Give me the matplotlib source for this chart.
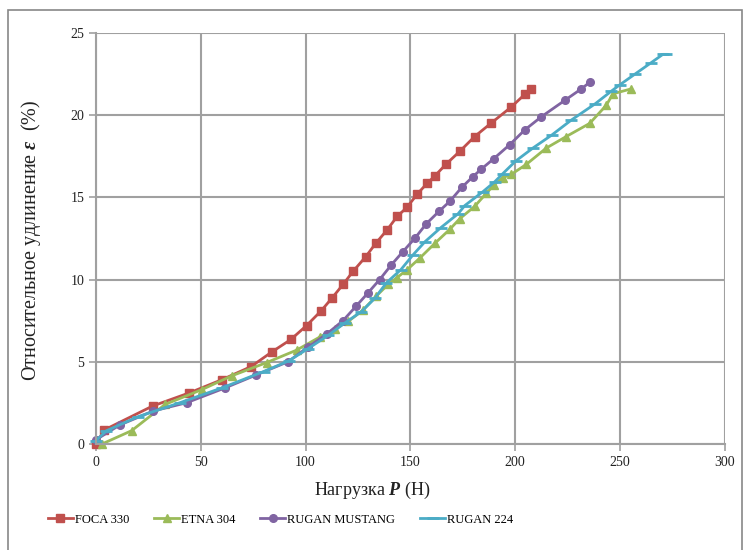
import matplotlib
matplotlib.use("Agg")
import matplotlib.pyplot as plt
from matplotlib.patches import Rectangle

plt.rcParams['font.family'] = ['Liberation Serif', 'DejaVu Serif']
plt.rcParams['mathtext.fontset'] = 'custom'
plt.rcParams['mathtext.bf'] = 'Liberation Serif:bold:italic'
plt.rcParams['mathtext.rm'] = 'Liberation Serif'

# FOCA 330
foca_x = [0, 4, 27, 44.5, 60, 74, 84, 93, 100.5, 107.5, 112.8, 117.9, 122.7, 128.8,
          133.5, 138.8, 143.8, 148.5, 153.3, 158, 161.7, 166.9, 173.6, 180.7, 188.4,
          198.2, 204.9, 207.8]
foca_y = [0, 0.85, 2.3, 3.1, 3.9, 4.7, 5.6, 6.35, 7.2, 8.1, 8.9, 9.7, 10.5, 11.4,
          12.2, 13.0, 13.85, 14.4, 15.2, 15.85, 16.3, 17.0, 17.8, 18.7, 19.5,
          20.5, 21.3, 21.6]

# ETNA 304
etna_x = [3, 17, 33, 50.5, 65, 81.5, 95.7, 106.8, 114, 120.4, 127.5, 133.8, 139.4,
          143.5, 148.5, 154.5, 161.7, 168.8, 173.6, 180.7, 186.3, 189.9, 194.2, 198.2,
          205.3, 214.9, 224.4, 235.6, 243.5, 246.7, 255.4]
etna_y = [0, 0.8, 2.4, 3.3, 4.15, 4.95, 5.7, 6.5, 7.0, 7.45, 8.15, 9.0, 9.7,
          10.1, 10.6, 11.3, 12.2, 13.05, 13.7, 14.45, 15.25, 15.75, 16.2, 16.4,
          17.0, 18.0, 18.7, 19.5, 20.6, 21.3, 21.6]

# RUGAN MUSTANG
mustang_x = [0, 11.4, 27.3, 43.2, 61.5, 76.6, 91.7, 101.3, 110.3, 117.9, 124.3, 129.9,
             135.4, 141, 146.5, 152.1, 157.7, 163.7, 168.8, 174.5, 179.8, 183.7, 189.8,
             197.4, 204.6, 212.5, 223.7, 231.6, 235.6]
mustang_y = [0.25, 1.15, 2.0, 2.5, 3.4, 4.2, 5.0, 5.9, 6.7, 7.5, 8.4, 9.2,
             10.0, 10.9, 11.7, 12.5, 13.4, 14.15, 14.75, 15.6, 16.25, 16.7, 17.35,
             18.2, 19.1, 19.9, 20.9, 21.6, 22.0]

# RUGAN 224
r224_x = [0, 5, 20, 40, 60, 80, 92, 101.3, 110.8, 118.7, 126.7, 133, 138.6, 145.5,
          151.3, 157, 164.5, 172.8, 176, 184.7, 190.3, 194.2, 200.2, 208.5, 217.6,
          226.8, 238.3, 245.8, 250, 257.2, 265, 270.5, 272.1]
r224_y = [0.2, 0.8, 1.65, 2.5, 3.4, 4.4, 5.05, 5.8, 6.6, 7.35, 8.05, 8.85, 9.8, 10.6,
          11.5, 12.3, 13.15, 14.0, 14.5, 15.35, 15.95, 16.45, 17.2, 18.0, 18.8,
          19.7, 20.7, 21.45, 21.85, 22.5, 23.2, 23.7, 23.7]

labels = ['FOCA 330', 'ETNA 304', 'RUGAN MUSTANG', 'RUGAN 224']
colors = ['#C0504D', '#9BBB59', '#8064A2', '#4BACC6']

fig = plt.figure(figsize=(7.44, 5.5), dpi=100)
ax = fig.add_axes([0.129, 0.193, 0.845, 0.747])

ax.plot(foca_x, foca_y, color=colors[0], lw=2, marker='s', ms=5.5, label=labels[0], clip_on=False)
ax.plot(etna_x, etna_y, color=colors[1], lw=2, marker='^', ms=6, label=labels[1], clip_on=False)
ax.plot(mustang_x, mustang_y, color=colors[2], lw=2, marker='o', ms=5.5, label=labels[2], clip_on=False)
ax.plot(r224_x, r224_y, color=colors[3], lw=2, marker='_', ms=8, mew=2, label=labels[3], clip_on=False)

ax.set_xlim(0, 300)
ax.set_ylim(0, 25)
ax.set_xticks(range(0, 301, 50))
ax.set_yticks(range(0, 26, 5))
ax.grid(True, color='#A0A0A0', lw=1.5)
ax.set_axisbelow(True)
for s in ['top', 'right']:
    ax.spines[s].set_visible(False)
for s in ['left', 'bottom']:
    ax.spines[s].set_color('#A0A0A0')
    ax.spines[s].set_linewidth(1.5)
ax.tick_params(colors='#A0A0A0', labelcolor='#222222', labelsize=10, length=5, width=1.2)

# axis titles placed like the Excel chart
fig.text(0.5, 0.108, r'Нагрузка $\mathbf{P}$ (Н)', fontsize=13, color='#222222',
         ha='center', va='center')
fig.text(0.041, 0.564, r'Относительное удлинение $\mathbf{\varepsilon}$  (%)', fontsize=14.5,
         color='#222222', ha='center', va='center', rotation=90)

fig.legend(loc='center left', bbox_to_anchor=(0.056, 0.055), ncol=4, frameon=False,
           fontsize=9, handlelength=2.0, columnspacing=2.0, handletextpad=0.15,
           borderpad=0)

fig.patches.append(Rectangle((0.011, -0.01), 0.986, 0.992, transform=fig.transFigure,
                             fill=False, edgecolor='#888888', lw=1.2))

fig.savefig('out.png', dpi=100)
